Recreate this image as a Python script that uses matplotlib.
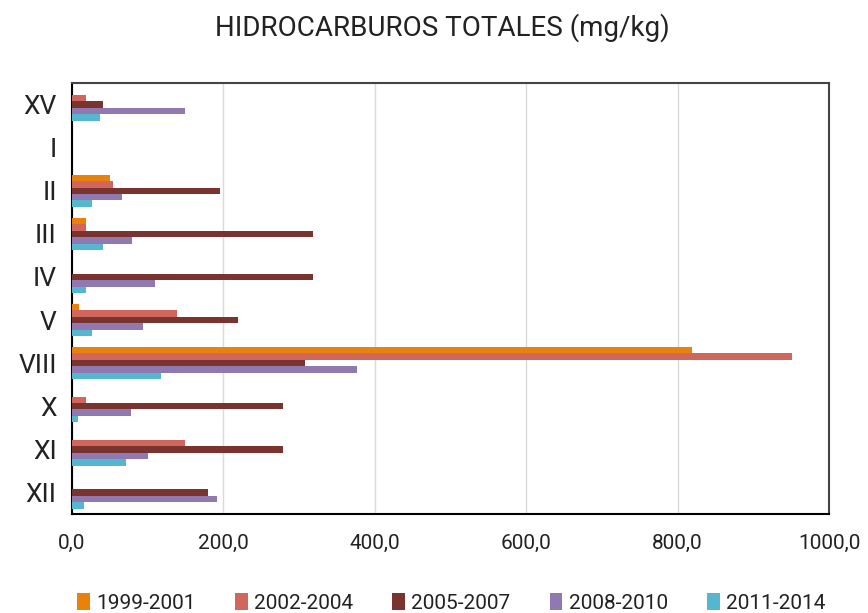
import numpy as np
import matplotlib.pyplot as plt
from matplotlib.ticker import FuncFormatter

# Data (mg/kg), regions from top to bottom
regions = ['XV', 'I', 'II', 'III', 'IV', 'V', 'VIII', 'X', 'XI', 'XII']
periods = ['1999-2001', '2002-2004', '2005-2007', '2008-2010', '2011-2014']
p1999_2001 = [0, 0, 50, 18, 0, 9, 819, 0, 0, 0]
p2002_2004 = [18, 0, 54, 18, 0, 139, 951, 18, 149, 0]
p2005_2007 = [41, 0, 196, 318, 318, 219, 308, 279, 279, 180]
p2008_2010 = [149, 0, 66, 79, 110, 94, 376, 78, 100, 192]
p2011_2014 = [37, 0, 26, 41, 18, 26, 118, 8, 71, 16]
colors = ['#E8820C', '#D0665C', '#7A3430', '#9079B0', '#55B7CF']

series = [p1999_2001, p2002_2004, p2005_2007, p2008_2010, p2011_2014]

fig = plt.figure(figsize=(8.68, 6.13), dpi=100)
ax = fig.add_axes([72 / 868, 1 - 514 / 613, 757 / 868, 431 / 613])

y = np.arange(len(regions))
h = 0.15
for i, (vals, lab, c) in enumerate(zip(series, periods, colors)):
    ax.barh(y + (i - 2) * h, vals, height=h, color=c, label=lab,
            linewidth=0, zorder=3)

ax.set_ylim(len(regions) - 0.5, -0.5)
ax.set_xlim(0, 1000)
ax.set_xticks([0, 200, 400, 600, 800, 1000])
ax.xaxis.set_major_formatter(FuncFormatter(lambda v, p: f'{v:.1f}'.replace('.', ',')))
ax.set_yticks(y)
ax.set_yticklabels(regions)
ax.grid(axis='x', color='#DADADA', linewidth=1, zorder=0)
ax.tick_params(length=0, colors='#222222')
ax.tick_params(axis='x', pad=14, labelsize=15)
ax.tick_params(axis='y', pad=11, labelsize=19)
for t in ax.get_xticklabels() + ax.get_yticklabels():
    t.set_family(['Roboto', 'DejaVu Sans'])
for s in ['top', 'right']:
    ax.spines[s].set_color('#444444')
    ax.spines[s].set_linewidth(1.5)
for s in ['left', 'bottom']:
    ax.spines[s].set_color('black')
    ax.spines[s].set_linewidth(1.5)

fig.text(0.51, 1 - 28 / 613, 'HIDROCARBUROS TOTALES (mg/kg)', ha='center', va='center',
         fontsize=20, family=['Roboto', 'DejaVu Sans'], color='#222222')

leg = fig.legend(loc='center', bbox_to_anchor=(0.52, 1 - 603 / 613), ncol=5, frameon=False,
                 prop={'family': ['Roboto', 'DejaVu Sans'], 'size': 15},
                 handlelength=0.6, handleheight=0.9, handletextpad=0.3, columnspacing=1.9)
for t in leg.get_texts():
    t.set_color('#222222')

fig.savefig('out.png', dpi=100)
